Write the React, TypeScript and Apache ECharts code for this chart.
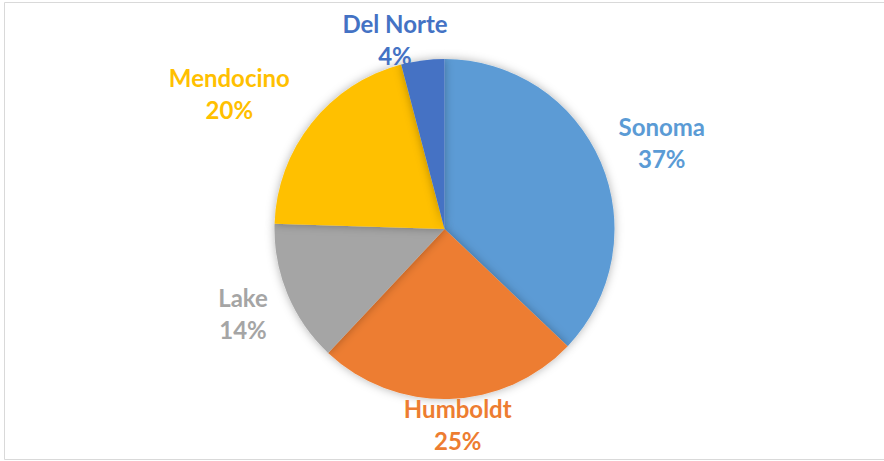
import React, { useEffect, useRef } from "react";
import * as echarts from "echarts";

const categories = ["Sonoma", "Humboldt", "Lake", "Mendocino", "Del Norte"];
const values = [37.1, 24.9, 13.5, 20.4, 4.1];
const colors = ["#5B9BD5", "#ED7D31", "#A5A5A5", "#FFC000", "#4472C4"];

// small label placement corrections (layout only)
const labelNudgeX = [3, 7, -3, -22, -21];
const labelNudgeY = [1, -3, 0, 0, 10];

const CX = 444.5;
const CY = 229;
const R = 170;

export default function App() {
  const ref = useRef<HTMLDivElement>(null);
  useEffect(() => {
    if (!ref.current) return;
    const chart = echarts.init(ref.current, undefined, { renderer: "svg" });
    const total = values.reduce((a, b) => a + b, 0);
    const mids: number[] = [];
    let acc = 0;
    values.forEach((v) => {
      mids.push(((acc + v / 2) / total) * Math.PI * 2);
      acc += v;
    });
    chart.setOption({
      animation: false,
      backgroundColor: "#ffffff",
      graphic: [
        {
          type: "rect",
          shape: { x: 4.5, y: 2.5, width: 920, height: 457 },
          style: { fill: "none", stroke: "#D9D9D9", lineWidth: 1 },
          silent: true,
        },
      ],
      series: [
        {
          type: "pie",
          center: [CX, CY],
          radius: R,
          startAngle: 90,
          clockwise: true,
          percentPrecision: 0,
          data: categories.map((name, i) => ({
            name,
            value: values[i],
            itemStyle: { color: colors[i] },
            label: { color: colors[i] },
          })),
          itemStyle: {
            shadowBlur: 10,
            shadowColor: "rgba(0,0,0,0.3)",
          },
          label: {
            show: true,
            position: "outside",
            formatter: "{b}\n{d}%",
            fontFamily: "Lato",
            fontWeight: "bold",
            fontSize: 24,
            lineHeight: 32,
          },
          labelLine: { show: false },
          labelLayout: (params: any) => {
            const i = params.dataIndex;
            const a = mids[i];
            const dx = Math.sin(a);
            const dy = -Math.cos(a);
            const w = params.labelRect.width;
            const h = params.labelRect.height;
            const rr = R - 4 + 26 * Math.abs(dx);
            return {
              x: CX + dx * rr + (dx * w) / 2 + labelNudgeX[i],
              y: CY + dy * rr + (dy * h) / 2 + labelNudgeY[i],
              align: "center",
              verticalAlign: "middle",
            };
          },
          emphasis: { disabled: true },
        },
      ],
    });
    return () => chart.dispose();
  }, []);
  return (
    <div
      ref={ref}
      style={{ position: "fixed", left: 0, top: 0, width: 884, height: 461 }}
    />
  );
}
